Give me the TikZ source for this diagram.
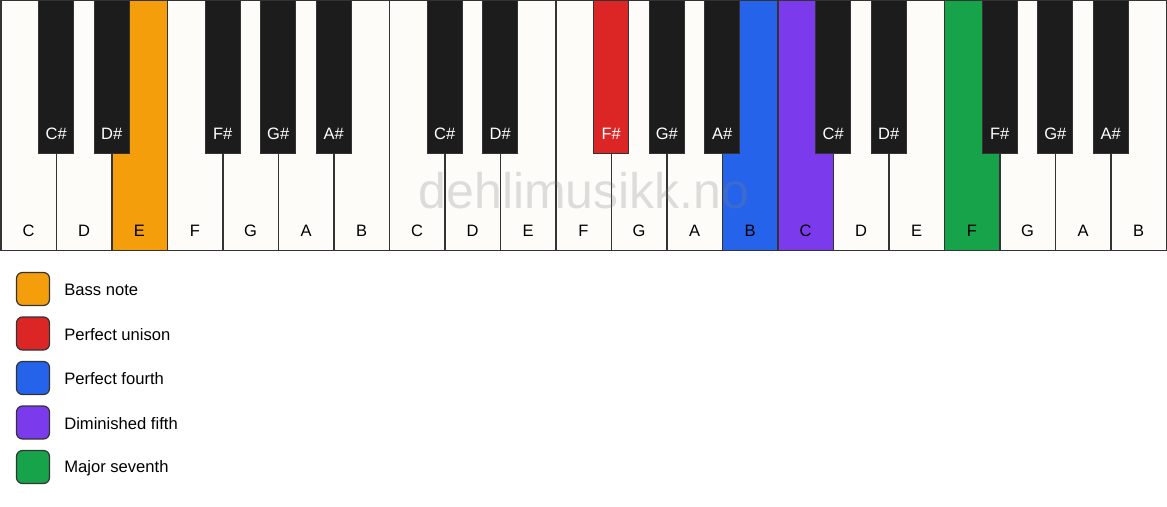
\documentclass[tikz,border=0pt]{standalone}
\usepackage{fontspec}
\setmainfont{Liberation Sans}
\usetikzlibrary{positioning}

\definecolor{keywhite}{HTML}{FDFCF9}
\definecolor{keyblack}{HTML}{1C1C1C}
\definecolor{keyline}{HTML}{333333}
\definecolor{bassnote}{HTML}{F59E0B}
\definecolor{unison}{HTML}{DC2626}
\definecolor{fourth}{HTML}{2563EB}
\definecolor{dimfifth}{HTML}{7C3AED}
\definecolor{seventh}{HTML}{16A34A}

\tikzset{
  whitekey/.style={draw=keyline, line width=1.5pt, minimum width=55.5pt, minimum height=250pt, inner sep=0pt},
  blackkey/.style={draw=keyline, line width=1pt, fill=keyblack, minimum width=34.7pt, minimum height=153pt, inner sep=0pt},
  keylabel/.style={font=\fontsize{16.5}{19}\selectfont, inner sep=0pt},
  legendbox/.style={draw=keyline, line width=1.2pt, rounded corners=6pt, minimum size=33pt, inner sep=0pt},
  legendtext/.style={font=\fontsize{16.6}{19}\selectfont, inner sep=0pt, anchor=west}
}

\begin{document}
\begin{tikzpicture}[x=1pt,y=-1pt]
\useasboundingbox (0,0) rectangle (1167,506);
\fill[white] (0,0) rectangle (1167,506);

% white keys
\foreach \n/\c [count=\i from 0] in {C/keywhite,D/keywhite,E/bassnote,F/keywhite,G/keywhite,A/keywhite,B/keywhite,
  C/keywhite,D/keywhite,E/keywhite,F/keywhite,G/keywhite,A/keywhite,B/fourth,
  C/dimfifth,D/keywhite,E/keywhite,F/seventh,G/keywhite,A/keywhite,B/keywhite} {
  \node[whitekey, fill=\c] (w\i) at (0.75+27.75+\i*55.5, 125.5) {};
  \node[keylabel] (wl\i) at (0.75+27.75+\i*55.5, 230.5) {\n};
}

% watermark
\node[font=\fontsize{50}{60}\selectfont, text=gray, opacity=0.25, inner sep=0pt] (mark) at (584,191) {dehlimusikk.no};

% black keys
\foreach \o in {0,1,2} {
  \foreach \k/\n in {1/C\#,2/D\#,4/F\#,5/G\#,6/A\#} {
    \pgfmathtruncatemacro{\b}{\o*7+\k}
    \ifnum\b=11
      \node[blackkey, fill=unison] (b\b) at (0.75+\b*55.5, 76.5) {};
    \else
      \node[blackkey] (b\b) at (0.75+\b*55.5, 76.5) {};
    \fi
    \node[keylabel, text=white] (bl\b) at (0.75+\b*55.5, 133.5) {\n};
  }
}

% legend
\node[legendbox, fill=bassnote] (lg1) at (33,289) {};
\node[legendtext, right=14pt of lg1, yshift=-1pt] (lt1) {Bass note};
\node[legendbox, fill=unison] (lg2) at (33,333.5) {};
\node[legendtext, right=14pt of lg2, yshift=-1pt] (lt2) {Perfect unison};
\node[legendbox, fill=fourth] (lg3) at (33,378) {};
\node[legendtext, right=14pt of lg3, yshift=-1pt] (lt3) {Perfect fourth};
\node[legendbox, fill=dimfifth] (lg4) at (33,422.5) {};
\node[legendtext, right=14pt of lg4, yshift=-1pt] (lt4) {Diminished fifth};
\node[legendbox, fill=seventh] (lg5) at (33,467) {};
\node[legendtext, right=14pt of lg5, yshift=-1pt] (lt5) {Major seventh};

\end{tikzpicture}
\end{document}
